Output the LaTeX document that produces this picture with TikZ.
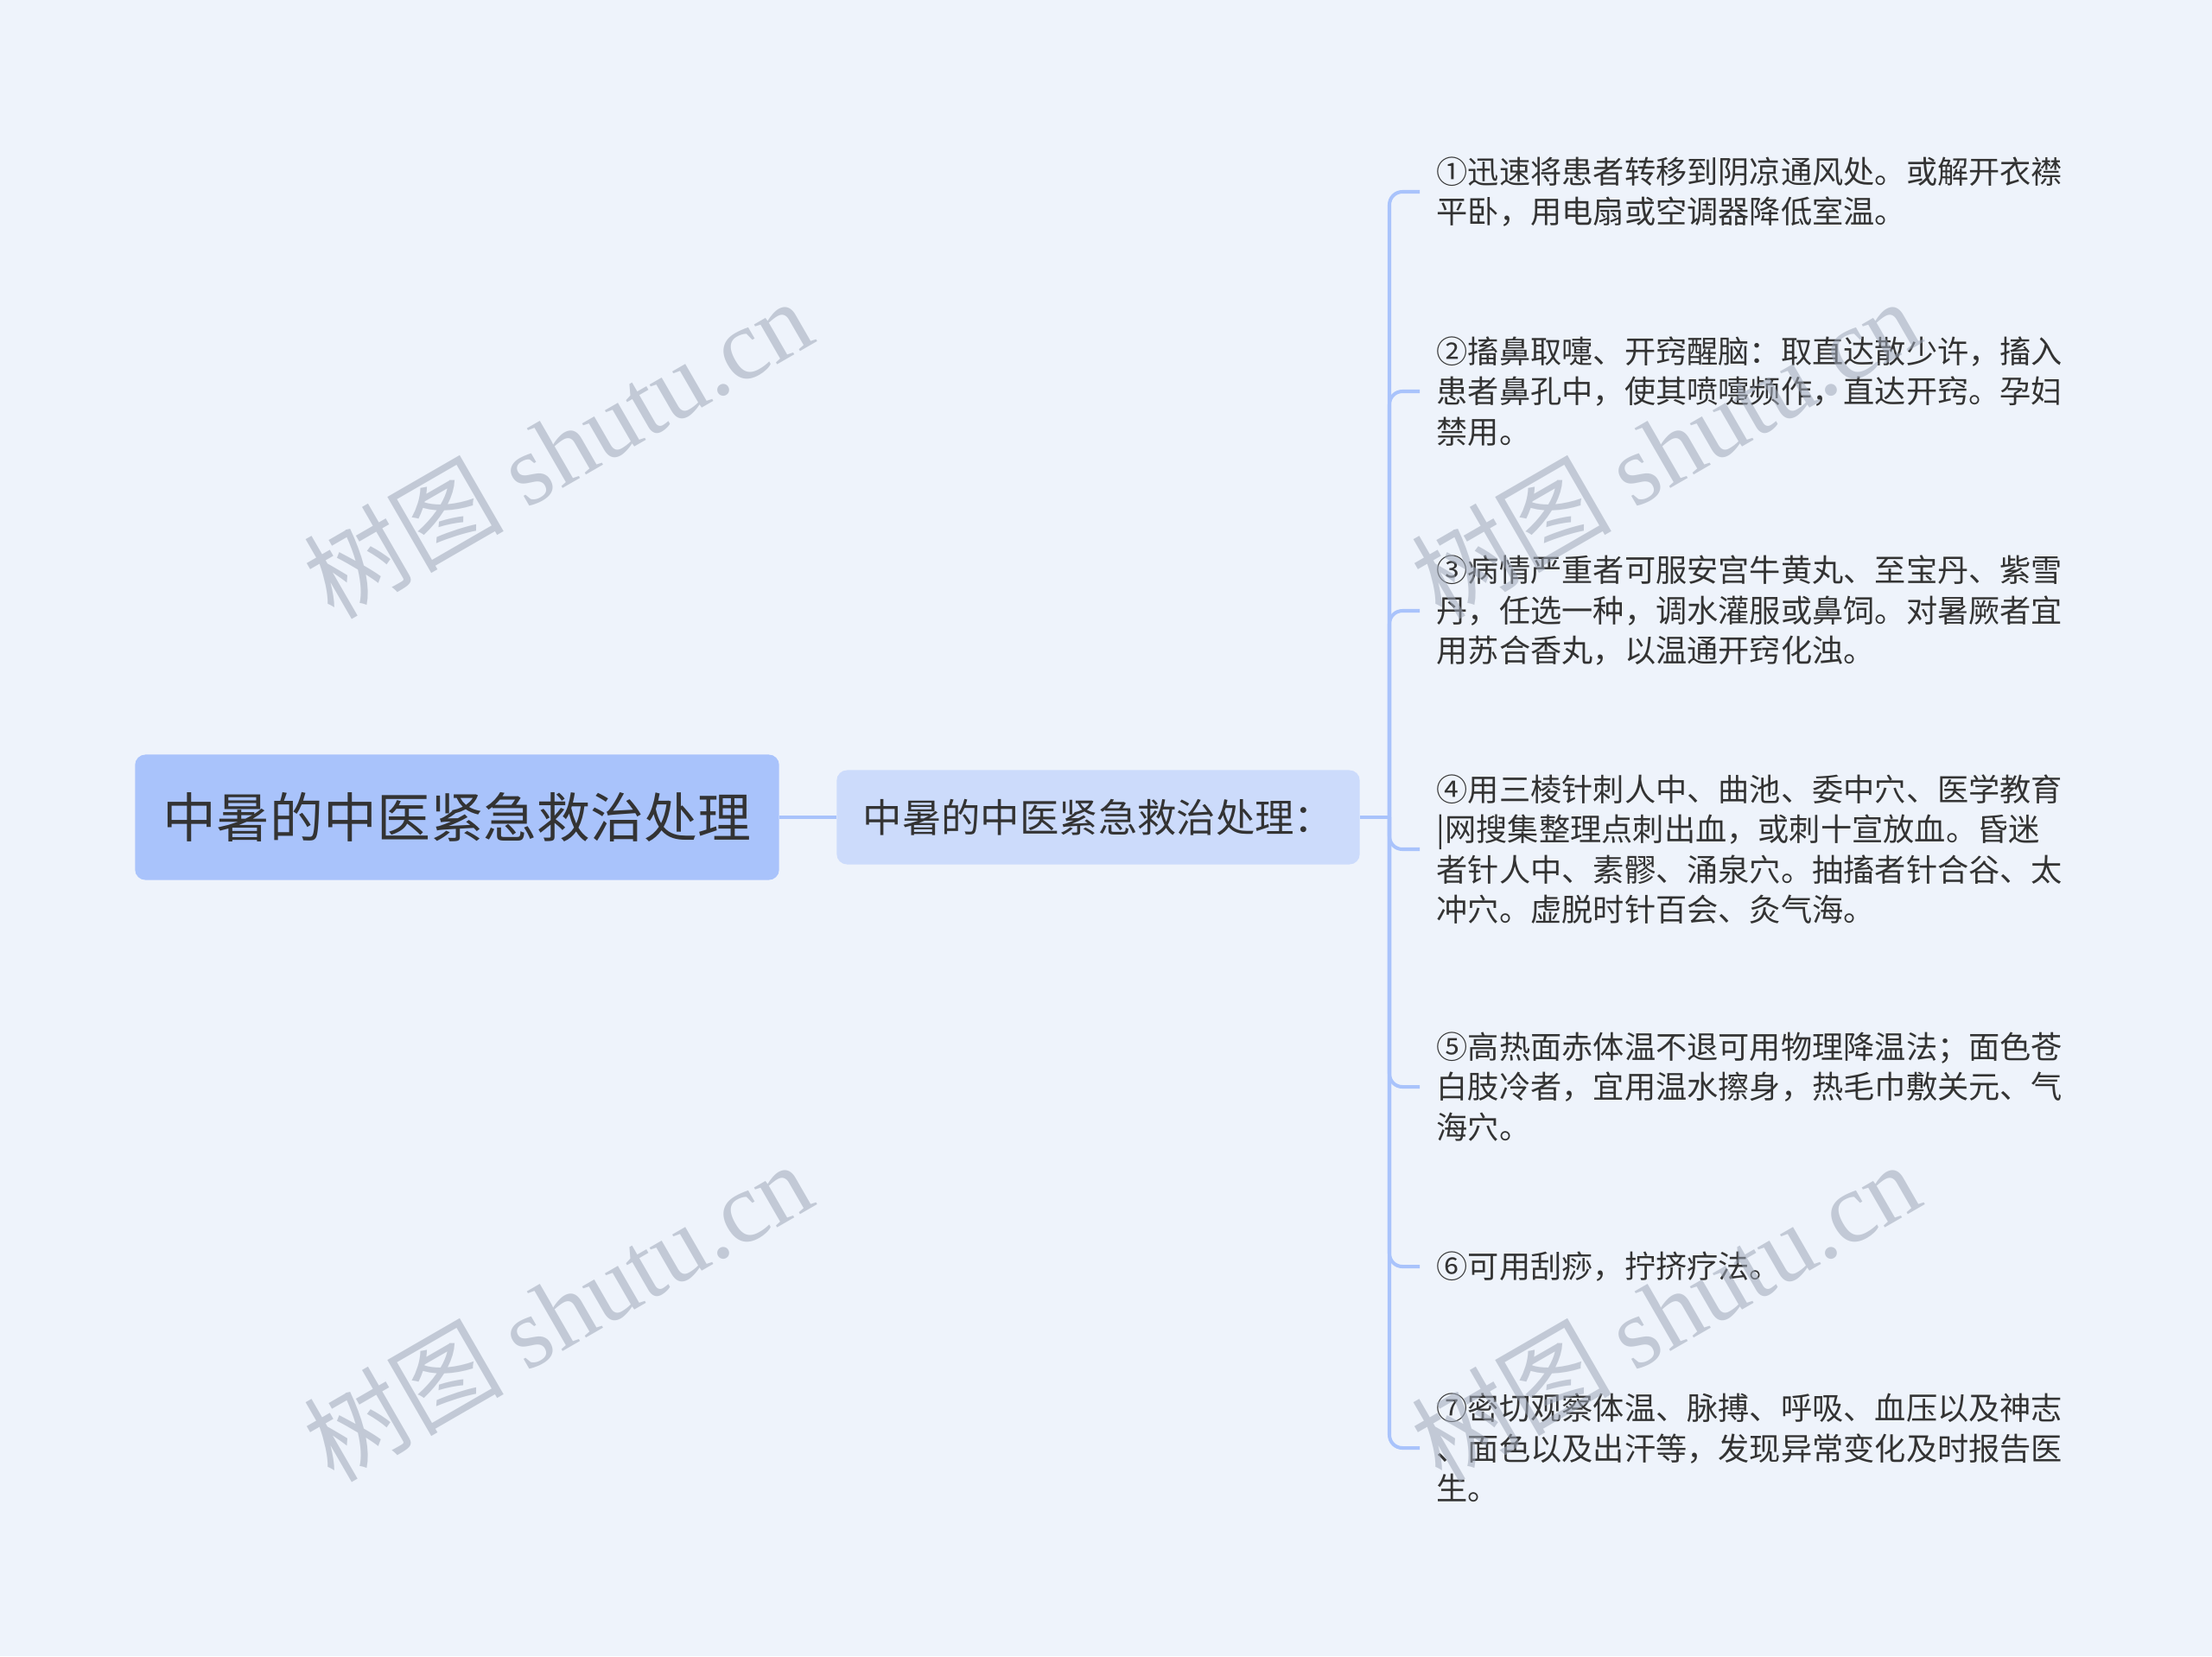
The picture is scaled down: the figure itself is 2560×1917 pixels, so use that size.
\documentclass[tikz,border=0pt]{standalone}
\usepackage{fontspec}
\newfontfamily\cjk{Noto Sans CJK SC}
\newfontfamily\wmlatin{Liberation Serif}

\definecolor{bgcol}{HTML}{EEF3FB}
\definecolor{rootfill}{HTML}{A9C3FB}
\definecolor{subfill}{HTML}{CCDBFB}
\definecolor{linkcol}{HTML}{A9C3FB}
\definecolor{inkcol}{HTML}{333333}
\definecolor{wmgray}{HTML}{9FA8B8}

\tikzset{
  rootbox/.style={fill=rootfill, rounded corners=0.12cm, minimum width=7.45cm,
    minimum height=1.45cm, inner sep=0pt, text=inkcol,
    font=\cjk\fontsize{17.6}{21}\selectfont},
  subbox/.style={fill=subfill, rounded corners=0.12cm, minimum width=6.05cm,
    minimum height=1.09cm, inner sep=0pt, text=inkcol,
    font=\cjk\fontsize{12.9}{16}\selectfont},
  leaf/.style={anchor=west, align=left, inner xsep=0.19cm, inner ysep=0pt,
    text=inkcol, font=\cjk\fontsize{10.3}{13.23}\selectfont},
  link/.style={draw=linkcol, line width=1.15pt},
  wmtext/.style={rotate=30, text=wmgray, text opacity=0.55,
    font=\cjk\fontsize{33}{38}\selectfont}
}

\begin{document}
\begin{tikzpicture}[x=0.01cm, y=-0.01cm]
  %% canvas
  \fill[bgcol] (0,0) rectangle (2560,1917);
  \useasboundingbox (0,0) rectangle (2560,1917);

  %% main topics
  \node[rootbox] (root) at (529,946) {中暑的中医紧急救治处理};
  \node[subbox] (sub) at (1271,946) {中暑的中医紧急救治处理：};
  \coordinate (hub) at (1608,946);

  %% leaves
  \node[leaf] (l1) at (1643,222) {①迅速将患者转移到阴凉通风处。或解开衣襟\\平卧，用电扇或空调器降低室温。};
  \node[leaf] (l2) at (1643,453) {②搐鼻取嚏、开窍醒脑：取直达散少许，搐入\\患者鼻孔中，使其喷嚏频作，直达开窍。孕妇\\禁用。};
  \node[leaf] (l3) at (1643,707) {③病情严重者可服安宫牛黄丸、至宝丹、紫雪\\丹，任选一种，调水灌服或鼻饲。对暑厥者宜\\用苏合香丸，以温通开窍化浊。};
  \node[leaf] (l4) at (1643,983) {④用三棱针刺人中、曲池、委中穴、医学教育\\|网搜集整理点刺出血，或刺十宣放血。昏迷\\者针人中、素髎、涌泉穴。抽搐者针合谷、太\\冲穴。虚脱时针百会、灸气海。};
  \node[leaf] (l5) at (1643,1258) {⑤高热面赤体温不退可用物理降温法；面色苍\\白肢冷者，宜用温水擦身，热毛巾敷关元、气\\海穴。};
  \node[leaf] (l6) at (1643,1466) {⑥可用刮痧，拧挤疗法。};
  \node[leaf] (l7) at (1643,1676) {⑦密切观察体温、脉搏、呼吸、血压以及神志\\、面色以及出汗等，发现异常变化及时报告医\\生。};

  %% connectors
  \draw[link] (root.east) -- (sub.west);
  \draw[link] (sub.east) -- (hub);
  \foreach \i in {1,...,7}
    \draw[link, rounded corners=0.15cm] (hub) |- (l\i.west);

  %% watermarks
  \node[wmtext] (wm1) at (645,518) {树图 {\wmlatin shutu.cn}};
  \node[wmtext] (wm2) at (645,1517) {树图 {\wmlatin shutu.cn}};
  \node[wmtext] (wm3) at (1927,518) {树图 {\wmlatin shutu.cn}};
  \node[wmtext] (wm4) at (1927,1517) {树图 {\wmlatin shutu.cn}};
\end{tikzpicture}
\end{document}
